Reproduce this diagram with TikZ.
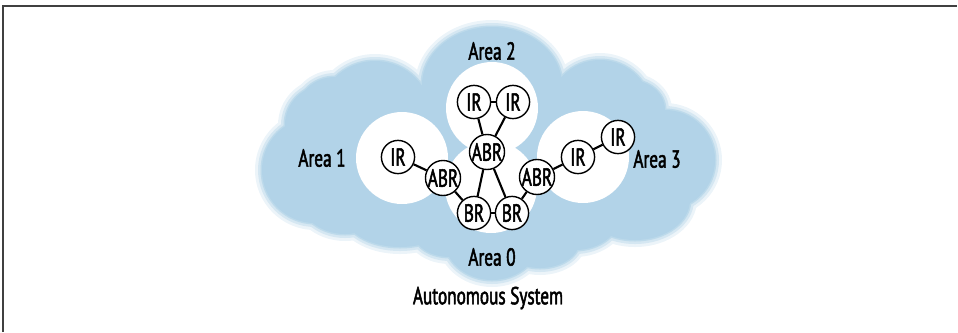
\documentclass[tikz,border=0pt]{standalone}
\usepackage{fontspec}
\setmainfont{PT Sans}[FakeStretch=0.7,FakeBold=2]
\usetikzlibrary{positioning}
\definecolor{cloudblue}{RGB}{178,211,232}
\tikzset{
  router/.style={circle,draw=black,fill=white,line width=1pt,minimum size=0.83cm,inner sep=0pt,font=\fontsize{17.5}{19}\selectfont},
  arealabel/.style={font=\fontsize{17.5}{19}\selectfont,inner sep=1pt},
  link/.style={line width=1.5pt}
}
\newcommand{\cloudshape}[1]{%
  \foreach \cx/\cy/\rx/\ry in {492/85/70/58,375/118/57/57,335/112/38/35,325/125/40/40,315/170/53/53,345/192/48/42,
      400/215/55/32,450/235/35/22,492/238/48/42,540/240/40/28,575/215/45/35,635/200/55/40,
      665/160/50/50,600/112/52/52,630/110/35/30,492/160/150/70}
    {\fill[#1] (\cx,\cy) ellipse [x radius=\rx+\blurgrow, y radius=\ry+\blurgrow];}}
\begin{document}
\begin{tikzpicture}[x=0.025cm,y=-0.025cm]
\useasboundingbox (0,0) rectangle (958,332);
\draw[line width=1pt,black!75] (3,332) -- (3,6) -- (957,6);
\def\blurgrow{7}\cloudshape{cloudblue!25}
\def\blurgrow{4}\cloudshape{cloudblue!55}
\def\blurgrow{1.5}\cloudshape{cloudblue!85}
\def\blurgrow{0}\cloudshape{cloudblue}
\fill[white] (402,158) circle (46);
\fill[white] (492,108) circle (46);
\fill[white] (583,157) circle (46);
\fill[white] (491,187) circle (46);
\node[router] (ir_a2l) at (474,102) {IR};
\node[router] (ir_a2r) at (513,102) {IR};
\node[router] (abr_a2) at (487,152) {ABR};
\node[router] (abr_a1) at (443,178) {ABR};
\node[router] (abr_a3) at (537,177) {ABR};
\node[router] (br_l) at (474,213) {BR};
\node[router] (br_r) at (512,213) {BR};
\node[router] (ir_a1) at (398,157) {IR};
\node[router] (ir_a3a) at (578,157) {IR};
\node[router] (ir_a3b) at (618,137) {IR};
\node[arealabel] (lbl_a2) at (492,51) {Area 2};
\node[arealabel] (lbl_a1) at (322,158) {Area 1};
\node[arealabel] (lbl_a3) at (657,159) {Area 3};
\node[arealabel] (lbl_a0) at (492,257) {Area 0};
\node[arealabel] (lbl_as) at (488,298) {Autonomous System};
\draw[link] (ir_a2l) -- (ir_a2r);
\draw[link] (ir_a2l) -- (abr_a2);
\draw[link] (ir_a2r) -- (abr_a2);
\draw[link] (abr_a2) -- (br_l);
\draw[link] (abr_a2) -- (br_r);
\draw[link] (br_l) -- (br_r);
\draw[link] (abr_a1) -- (br_l);
\draw[link] (abr_a3) -- (br_r);
\draw[link] (ir_a1) -- (abr_a1);
\draw[link] (abr_a3) -- (ir_a3a);
\draw[link] (ir_a3a) -- (ir_a3b);
\end{tikzpicture}
\end{document}
